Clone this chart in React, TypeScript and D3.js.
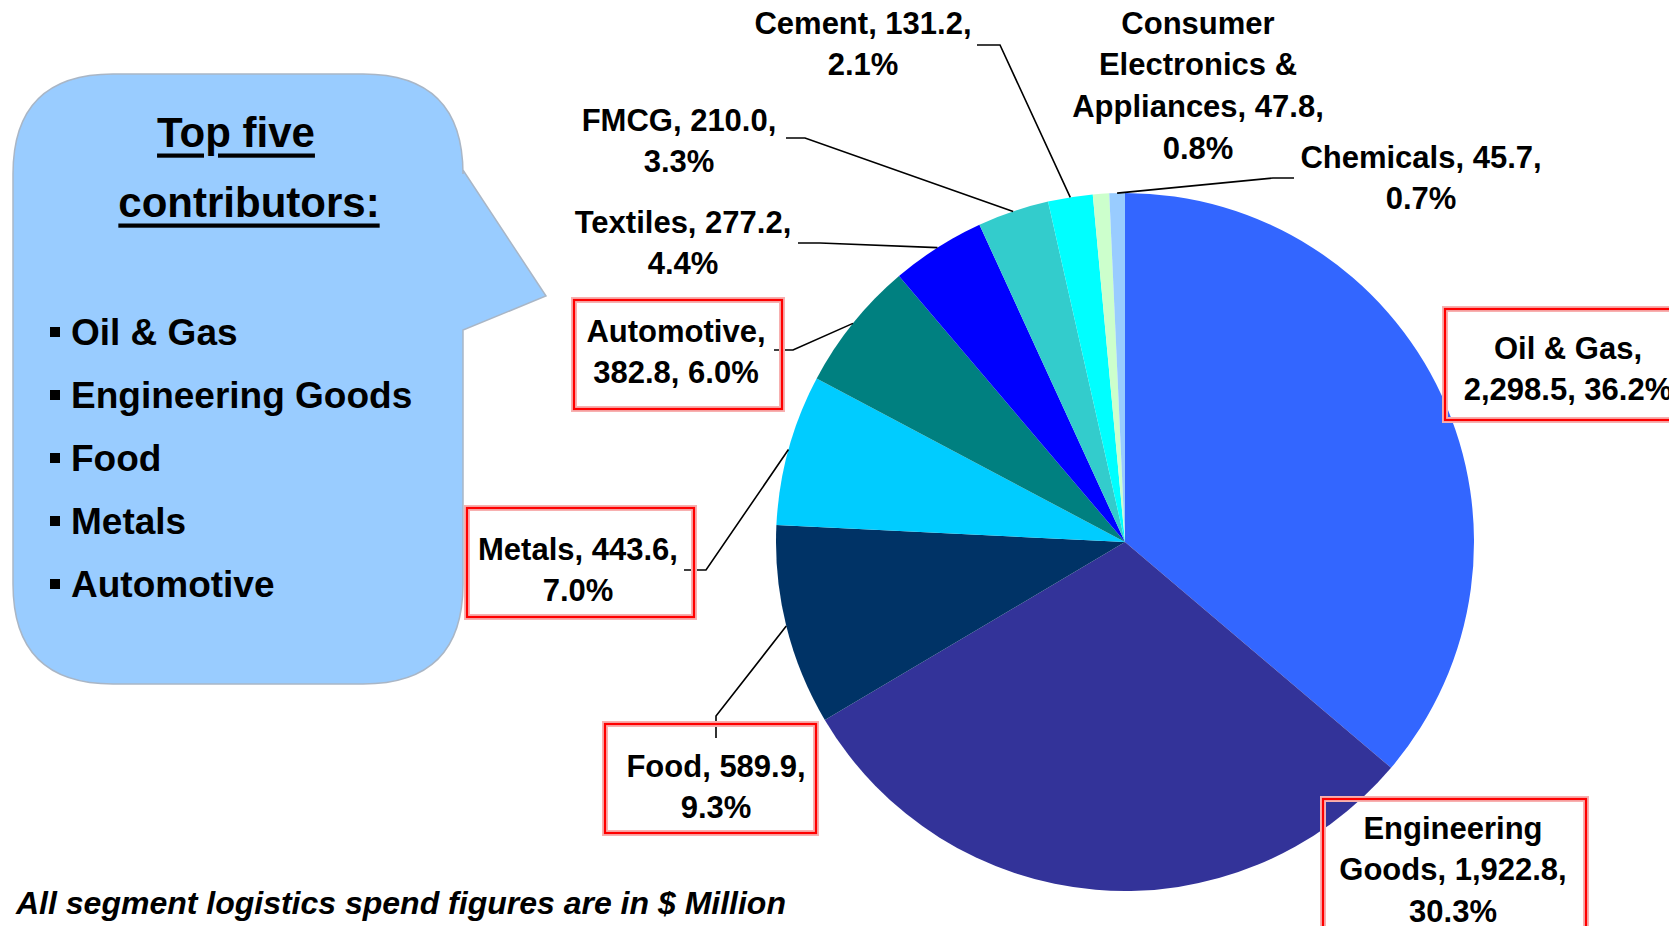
import React from "react";
import * as d3 from "d3";

// ---------- data ----------
const categories = [
  "Oil & Gas",
  "Engineering Goods",
  "Food",
  "Metals",
  "Automotive",
  "Textiles",
  "FMCG",
  "Cement",
  "Consumer Electronics & Appliances",
  "Chemicals",
];
const values = [2298.5, 1922.8, 589.9, 443.6, 382.8, 277.2, 210.0, 131.2, 47.8, 45.7];
const colors = [
  "#3366FF",
  "#333399",
  "#003366",
  "#00CCFF",
  "#008080",
  "#0000FF",
  "#33CCCC",
  "#00FFFF",
  "#CCFFCC",
  "#99CCFF",
];
const topFive = ["Oil & Gas", "Engineering Goods", "Food", "Metals", "Automotive"];
const calloutTitle = ["Top five", "contributors:"];
const footnote = "All segment logistics spend figures are in $ Million";

// ---------- layout (label placement, words per line) ----------
type LabelLayout = {
  x: number;
  y: number;
  breaks: number[];
  box?: [number, number, number, number];
  leader?: [number, number][];
};
const labelLayout: LabelLayout[] = [
  { x: 1568, y: 348, breaks: [3, 2], box: [1445, 309, 260, 111] },
  { x: 1453, y: 828, breaks: [1, 2, 1], box: [1323, 799, 263, 140] },
  { x: 716, y: 766, breaks: [2, 1], box: [605, 724, 211, 109], leader: [[716, 716], [716, 738]] },
  { x: 578, y: 549, breaks: [2, 1], box: [467, 508, 227, 109], leader: [[706, 570], [684, 570]] },
  { x: 676, y: 331, breaks: [1, 2], box: [574, 300, 208, 109], leader: [[793, 350], [774, 350]] },
  { x: 683, y: 222, breaks: [2, 1], leader: [[820, 243], [798, 243]] },
  { x: 679, y: 120, breaks: [2, 1], leader: [[805, 138], [786, 138]] },
  { x: 863, y: 23, breaks: [2, 1], leader: [[1000, 45], [977, 45]] },
  { x: 1198, y: 23, breaks: [1, 2, 2, 1] },
  { x: 1421, y: 157, breaks: [2, 1], leader: [[1273, 178], [1294, 178]] },
];

const W = 1669;
const H = 926;
const CX = 1125;
const CY = 542;
const R = 349;
const LINE = 41.8;
const FONT = "'Liberation Sans', Arial, Helvetica, sans-serif";

export default function App() {
  const total = d3.sum(values);
  const pie = d3
    .pie<number>()
    .sort(null)
    .startAngle(0)
    .endAngle(2 * Math.PI)
    .value((d) => d);
  const arcs = pie(values);
  const arc = d3.arc<d3.PieArcDatum<number>>().innerRadius(0).outerRadius(R);
  const fmtV = d3.format(",.1f");
  const fmtP = d3.format(".1%");

  const labelWords = values.map((v, i) =>
    `${categories[i]}, ${fmtV(v)}, ${fmtP(v / total)}`.split(" ")
  );
  const labelLines = labelWords.map((words, i) => {
    const out: string[] = [];
    let k = 0;
    labelLayout[i].breaks.forEach((n) => {
      out.push(words.slice(k, k + n).join(" "));
      k += n;
    });
    return out;
  });

  // callout shape
  const cl = 13, ct = 74, cr = 463, cb = 684, rad = 100;
  const callout = d3.path();
  callout.moveTo(cl + rad, ct);
  callout.lineTo(cr - rad, ct);
  callout.quadraticCurveTo(cr, ct, cr, ct + rad);
  callout.lineTo(cr, 170);
  callout.lineTo(546, 296);
  callout.lineTo(cr, 330);
  callout.lineTo(cr, cb - rad);
  callout.quadraticCurveTo(cr, cb, cr - rad, cb);
  callout.lineTo(cl + rad, cb);
  callout.quadraticCurveTo(cl, cb, cl, cb - rad);
  callout.lineTo(cl, ct + rad);
  callout.quadraticCurveTo(cl, ct, cl + rad, ct);
  callout.closePath();

  return (
    <svg
      width={W}
      height={H}
      style={{ position: "absolute", left: 0, top: 0, background: "#fff" }}
      fontFamily={FONT}
    >
      {/* callout */}
      <path d={callout.toString()} fill="#99CCFF" stroke="#a9b6c6" strokeWidth={1.5} />
      {calloutTitle.map((t, i) => (
        <text
          key={t}
          x={i === 0 ? 236 : 249}
          y={132 + i * 70}
          textAnchor="middle"
          dominantBaseline="central"
          fontSize={42}
          fontWeight="bold"
          textDecoration="underline"
        >
          {t}
        </text>
      ))}
      {topFive.map((t, i) => (
        <g key={t}>
          <rect x={50} y={327 + i * 63} width={10} height={10} fill="#000" />
          <text x={71} y={332 + i * 63} dominantBaseline="central" fontSize={37} fontWeight="bold">
            {t}
          </text>
        </g>
      ))}

      {/* pie */}
      <g transform={`translate(${CX},${CY})`}>
        {arcs.map((a, i) => (
          <path key={categories[i]} d={arc(a) || ""} fill={colors[i]} />
        ))}
      </g>

      {/* leader lines */}
      {arcs.map((a, i) => {
        const L = labelLayout[i];
        if (!L.leader) return null;
        const mid = (a.startAngle + a.endAngle) / 2;
        const px = CX + R * Math.sin(mid);
        const py = CY - R * Math.cos(mid);
        const pts: [number, number][] = [[px, py], ...L.leader];
        return (
          <path
            key={"l" + i}
            d={d3.line()(pts) || ""}
            fill="none"
            stroke="#000"
            strokeWidth={1.6}
          />
        );
      })}

      {/* label boxes */}
      {labelLayout.map((L, i) =>
        L.box ? (
          <g key={"b" + i}>
            <rect
              x={L.box[0]}
              y={L.box[1]}
              width={L.box[2]}
              height={L.box[3]}
              fill="none"
              stroke="#f7b0b0"
              strokeWidth={6}
            />
            <rect
              x={L.box[0]}
              y={L.box[1]}
              width={L.box[2]}
              height={L.box[3]}
              fill="none"
              stroke="#ff0000"
              strokeWidth={2.2}
            />
          </g>
        ) : null
      )}

      {/* labels */}
      {labelLines.map((lines, i) => (
        <text
          key={"t" + i}
          textAnchor="middle"
          fontSize={31}
          fontWeight="bold"
          fill="#000"
        >
          {lines.map((ln, j) => (
            <tspan key={j} x={labelLayout[i].x} y={labelLayout[i].y + j * LINE} dominantBaseline="central">
              {ln}
            </tspan>
          ))}
        </text>
      ))}

      {/* footnote */}
      <text
        x={16}
        y={903}
        dominantBaseline="central"
        fontSize={32}
        fontWeight="bold"
        fontStyle="italic"
      >
        {footnote}
      </text>
    </svg>
  );
}
